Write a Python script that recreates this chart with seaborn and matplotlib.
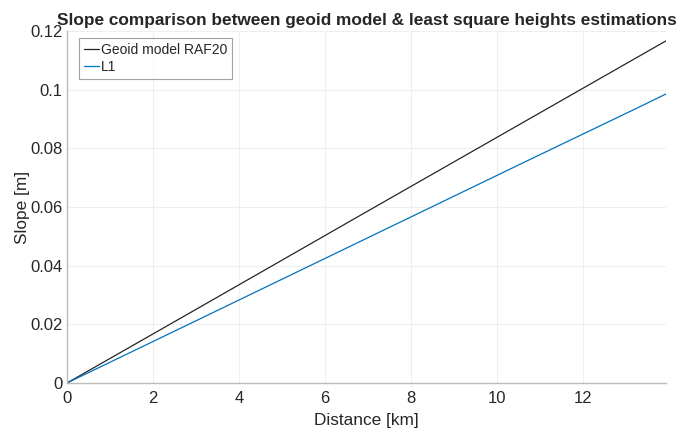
import pandas as pd
import matplotlib
matplotlib.use("Agg")
import matplotlib.pyplot as plt
import seaborn as sns
from matplotlib.ticker import FuncFormatter

# Données
geoid_distance = [0.0, 2.5, 4.6, 6.9, 9.1, 11.3, 13.93]
geoid_slope = [0.0, 0.0209, 0.0385, 0.0578, 0.0762, 0.0946, 0.1166]
l1_distance = [0.0, 3.0, 5.4, 8.1, 10.6, 13.3, 13.93]
l1_slope = [0.0, 0.0212, 0.0382, 0.0573, 0.0750, 0.0940, 0.0985]
series_names = ["Geoid model RAF20", "L1"]
series_colors = ["#262626", "#0072BD"]
x_ticks = [0, 2, 4, 6, 8, 10, 12]
y_ticks = [0, 0.02, 0.04, 0.06, 0.08, 0.1, 0.12]

sns.set_style("whitegrid")
plt.rcParams['font.family'] = ['Liberation Sans', 'DejaVu Sans']

data = pd.concat([
    pd.DataFrame({'Distance': geoid_distance, 'Slope': geoid_slope, 'Série': series_names[0]}),
    pd.DataFrame({'Distance': l1_distance, 'Slope': l1_slope, 'Série': series_names[1]}),
])

fig = plt.figure(figsize=(6.76, 4.30), dpi=100)
ax = fig.add_axes([0.0991, 0.1093, 0.8859, 0.8187])
sns.lineplot(data=data, x='Distance', y='Slope', hue='Série', hue_order=series_names,
             palette=series_colors, linewidth=0.9, sort=False, estimator=None, ax=ax)

ax.set_xlim(0, 13.93)
ax.set_ylim(0, 0.12)
ax.set_xticks(x_ticks)
ax.set_yticks(y_ticks)
ax.yaxis.set_major_formatter(FuncFormatter(lambda v, p: f"{v:g}"))
ax.grid(True, color='#efefef', linewidth=0.8)
for side in ['top', 'right']:
    ax.spines[side].set_visible(False)
for side in ['left', 'bottom']:
    ax.spines[side].set_color('#bcbcbc')
    ax.spines[side].set_linewidth(1.0)
ax.tick_params(axis='both', direction='in', length=4, color='#bcbcbc',
               labelsize=12, labelcolor='#262626', pad=3)
ax.tick_params(axis='x', pad=6)

ax.set_title('Slope comparison between geoid model & least square heights estimations',
             fontsize=12.4, fontweight='bold', pad=4)
ax.set_xlabel('Distance [km]', fontsize=12.4, color='#262626', labelpad=5)
ax.set_ylabel('Slope [m]', fontsize=12.4, color='#262626', labelpad=0)

leg = ax.legend(loc='upper left', bbox_to_anchor=(0.02, 0.98), fontsize=10,
                frameon=True, fancybox=False, handlelength=1.1, handletextpad=0.15,
                borderpad=0.35, labelspacing=0.2, borderaxespad=0)
leg.get_frame().set_edgecolor('#8a8a8a')
leg.get_frame().set_linewidth(0.8)

fig.savefig("out.png", dpi=100)
plt.close(fig)
